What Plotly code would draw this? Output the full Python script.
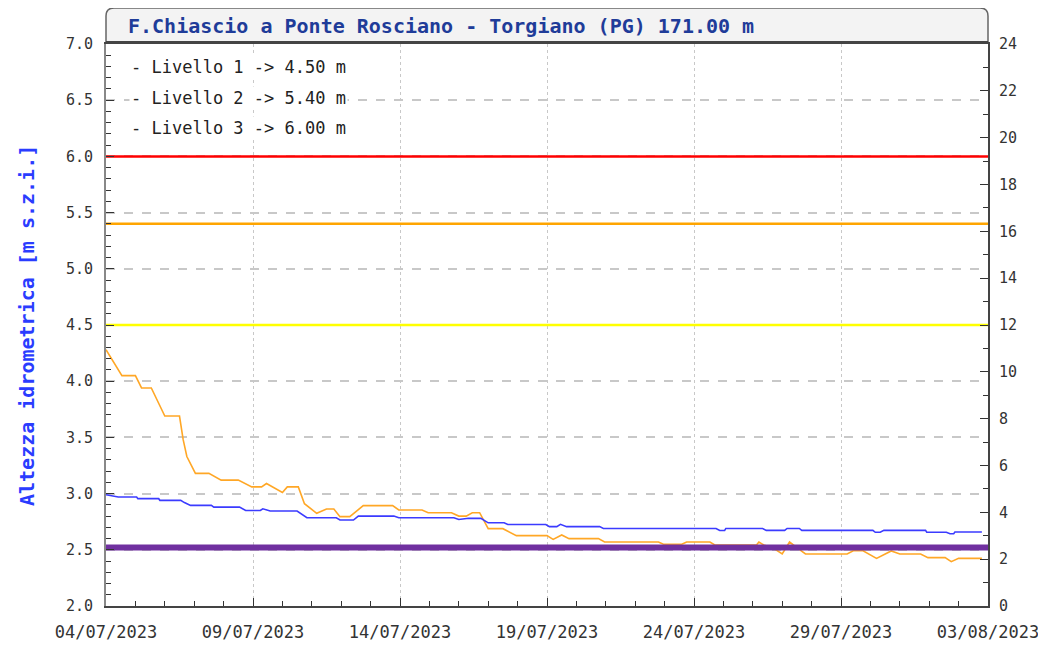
import pandas as pd
import plotly.graph_objects as go

START = "2023-07-04"
END = "2023-08-03"

# Blue series (left axis, m) - hours since start
blue_hours = [0, 10, 25, 26, 43, 44, 61, 64, 69, 86, 88, 109, 114, 126, 128, 134, 156, 164,
              188, 191, 202, 206, 235, 239, 284, 288, 296, 306, 312, 325, 328, 359, 362, 368,
              371, 376, 403, 406, 498, 501, 505, 506, 536, 539, 554, 556, 566, 568, 626, 628,
              632, 635, 669, 670, 686, 689, 692, 693, 715]
blue_vals = [2.99, 2.97, 2.97, 2.955, 2.955, 2.94, 2.94, 2.92, 2.895, 2.895, 2.88, 2.88, 2.85,
             2.85, 2.865, 2.845, 2.845, 2.785, 2.785, 2.765, 2.765, 2.80, 2.80, 2.785, 2.785,
             2.77, 2.78, 2.78, 2.74, 2.74, 2.725, 2.725, 2.706, 2.706, 2.727, 2.706, 2.706,
             2.69, 2.69, 2.672, 2.672, 2.69, 2.69, 2.673, 2.673, 2.69, 2.69, 2.673, 2.673,
             2.656, 2.656, 2.673, 2.673, 2.656, 2.656, 2.643, 2.643, 2.658, 2.658]

# Orange series (left axis, m)
orange_hours = [0, 13, 24, 29, 37, 48, 60, 63, 66, 73, 84, 94, 108, 119, 127, 131, 144, 148,
                157, 162, 172, 180, 186, 191, 199, 210, 234, 239, 258, 263, 282, 288, 294, 299,
                305, 312, 324, 335, 360, 365, 372, 378, 402, 407, 451, 455, 470, 474, 493, 497,
                531, 533, 537, 545, 552, 558, 564, 571, 605, 610, 618, 629, 641, 648, 665, 671,
                685, 690, 696, 715]
orange_vals = [4.28, 4.05, 4.05, 3.94, 3.94, 3.69, 3.69, 3.48, 3.33, 3.18, 3.18, 3.12, 3.12,
               3.06, 3.06, 3.09, 3.01, 3.06, 3.06, 2.91, 2.825, 2.863, 2.863, 2.795, 2.795,
               2.893, 2.893, 2.854, 2.854, 2.83, 2.83, 2.80, 2.80, 2.83, 2.83, 2.688, 2.688,
               2.626, 2.626, 2.593, 2.632, 2.599, 2.599, 2.569, 2.569, 2.549, 2.549, 2.569,
               2.569, 2.543, 2.543, 2.569, 2.543, 2.513, 2.463, 2.569, 2.52, 2.463, 2.463,
               2.492, 2.492, 2.424, 2.49, 2.463, 2.463, 2.43, 2.43, 2.394, 2.424, 2.424]

# Purple series (right axis)
purple_dates = [START, END]
purple_vals = [2.5, 2.5]

# Thresholds
thr_names = ["Livello 1", "Livello 2", "Livello 3"]
thr_vals = [4.50, 5.40, 6.00]
thr_colors = ["#FFFF00", "#FFA500", "#FF0000"]

date_ticks = ["2023-07-04", "2023-07-09", "2023-07-14", "2023-07-19",
              "2023-07-24", "2023-07-29", "2023-08-03"]

TITLE = "F.Chiascio a Ponte Rosciano - Torgiano (PG) 171.00 m"
YTITLE = "Altezza idrometrica [m s.z.i.]"

t0 = pd.Timestamp(START)
blue_x = t0 + pd.to_timedelta(blue_hours, unit="h")
orange_x = t0 + pd.to_timedelta(orange_hours, unit="h")

fig = go.Figure()

for v, c in zip(thr_vals, thr_colors):
    fig.add_trace(go.Scatter(x=[START, END], y=[v, v], mode="lines",
                             line=dict(color=c, width=2.5), hoverinfo="skip"))

fig.add_trace(go.Scatter(x=orange_x, y=orange_vals, mode="lines",
                         line=dict(color="#FFA726", width=1.6)))
fig.add_trace(go.Scatter(x=blue_x, y=blue_vals, mode="lines",
                         line=dict(color="#3B3BFF", width=1.6)))
fig.add_trace(go.Scatter(x=purple_dates, y=purple_vals, mode="lines", yaxis="y2",
                         line=dict(color="#7030A0", width=6), cliponaxis=False))

OFF = 8  # page body margin
W, H = 1036, 640
L, T = 98, 36
pw, ph = 882, 562
R = W - L - pw
B = H - T - ph

def px(xp):
    return (xp - OFF - L) / pw

def py(yp):
    return (OFF + T + ph - yp) / ph

MONO = "DejaVu Sans Mono"
axis_font = dict(family=MONO, size=15, color="#333333")

fig.update_layout(
    width=W, height=H,
    margin=dict(l=L, r=R, t=T, b=B, autoexpand=False),
    paper_bgcolor="white", plot_bgcolor="white",
    showlegend=False,
    xaxis=dict(
        type="date", range=[START, END], automargin=False,
        tickvals=date_ticks, tickformat="%d/%m/%Y",
        tickfont=dict(family=MONO, size=17, color="#333333"),
        showgrid=True, gridcolor="#C8C8C8", griddash="dot", gridwidth=1,
        showline=True, linecolor="#444444", linewidth=2, mirror=True,
        ticks="inside", ticklen=8, tickcolor="#333333",
        minor=dict(dtick=86400000, ticks="inside", ticklen=5, tickcolor="#333333", showgrid=False),
        zeroline=False, ticklabelstandoff=10,
    ),
    yaxis=dict(
        range=[2.0, 7.0], dtick=0.5, tickformat=".1f", automargin=False,
        tickfont=axis_font,
        showgrid=True, gridcolor="#C8C8C8", griddash="dash", gridwidth=1.5,
        showline=True, linecolor="#888888", linewidth=2,
        ticks="inside", ticklen=8, tickcolor="#333333",
        minor=dict(dtick=0.1, ticks="inside", ticklen=5, tickcolor="#333333", showgrid=False),
        zeroline=False, ticklabelstandoff=8,
    ),
    yaxis2=dict(
        range=[0, 24], dtick=2, overlaying="y", side="right", automargin=False,
        tickfont=axis_font, showgrid=False,
        showline=True, linecolor="#444444", linewidth=2,
        ticks="inside", ticklen=8, tickcolor="#333333",
        minor=dict(dtick=1, ticks="inside", ticklen=5, tickcolor="#333333"),
        zeroline=False, ticklabelstandoff=6,
    ),
)

# Title box with rounded top corners
x0, x1 = 0.0, 1.0
yb, yt = py(43), py(8)
rx, ry = 8 / pw, 8 / ph
path = (f"M {x0},{yb} L {x0},{yt - ry} Q {x0},{yt} {x0 + rx},{yt} "
        f"L {x1 - rx},{yt} Q {x1},{yt} {x1},{yt - ry} L {x1},{yb} Z")
fig.add_shape(type="path", path=path, xref="paper", yref="paper",
              fillcolor="#F3F3F3", line=dict(color="#666666", width=1.5), layer="below")
fig.add_shape(type="line", xref="paper", yref="paper", x0=0, x1=1, y0=py(42), y1=py(42),
              line=dict(color="#444444", width=2))

fig.add_annotation(text=TITLE, xref="paper", yref="paper", x=px(126), y=py(26),
                   xanchor="left", yanchor="middle", showarrow=False,
                   font=dict(family=MONO, size=20, color="#1F3C99", weight="bold"))

fig.add_annotation(text=YTITLE, xref="paper", yref="paper", x=px(27), y=py(326),
                   xanchor="center", yanchor="middle", showarrow=False, textangle=-90,
                   font=dict(family=MONO, size=20, color="#2A3CFF", weight="bold"))

for i, (n, v) in enumerate(zip(thr_names, thr_vals)):
    fig.add_annotation(text=f"- {n} -> {v:.2f} m", xref="paper", yref="paper",
                       x=px(129), y=py(67 + i * 30.5), xanchor="left", yanchor="middle",
                       showarrow=False, bgcolor="white",
                       font=dict(family=MONO, size=17, color="#222222"))

fig.write_html("out.html")
